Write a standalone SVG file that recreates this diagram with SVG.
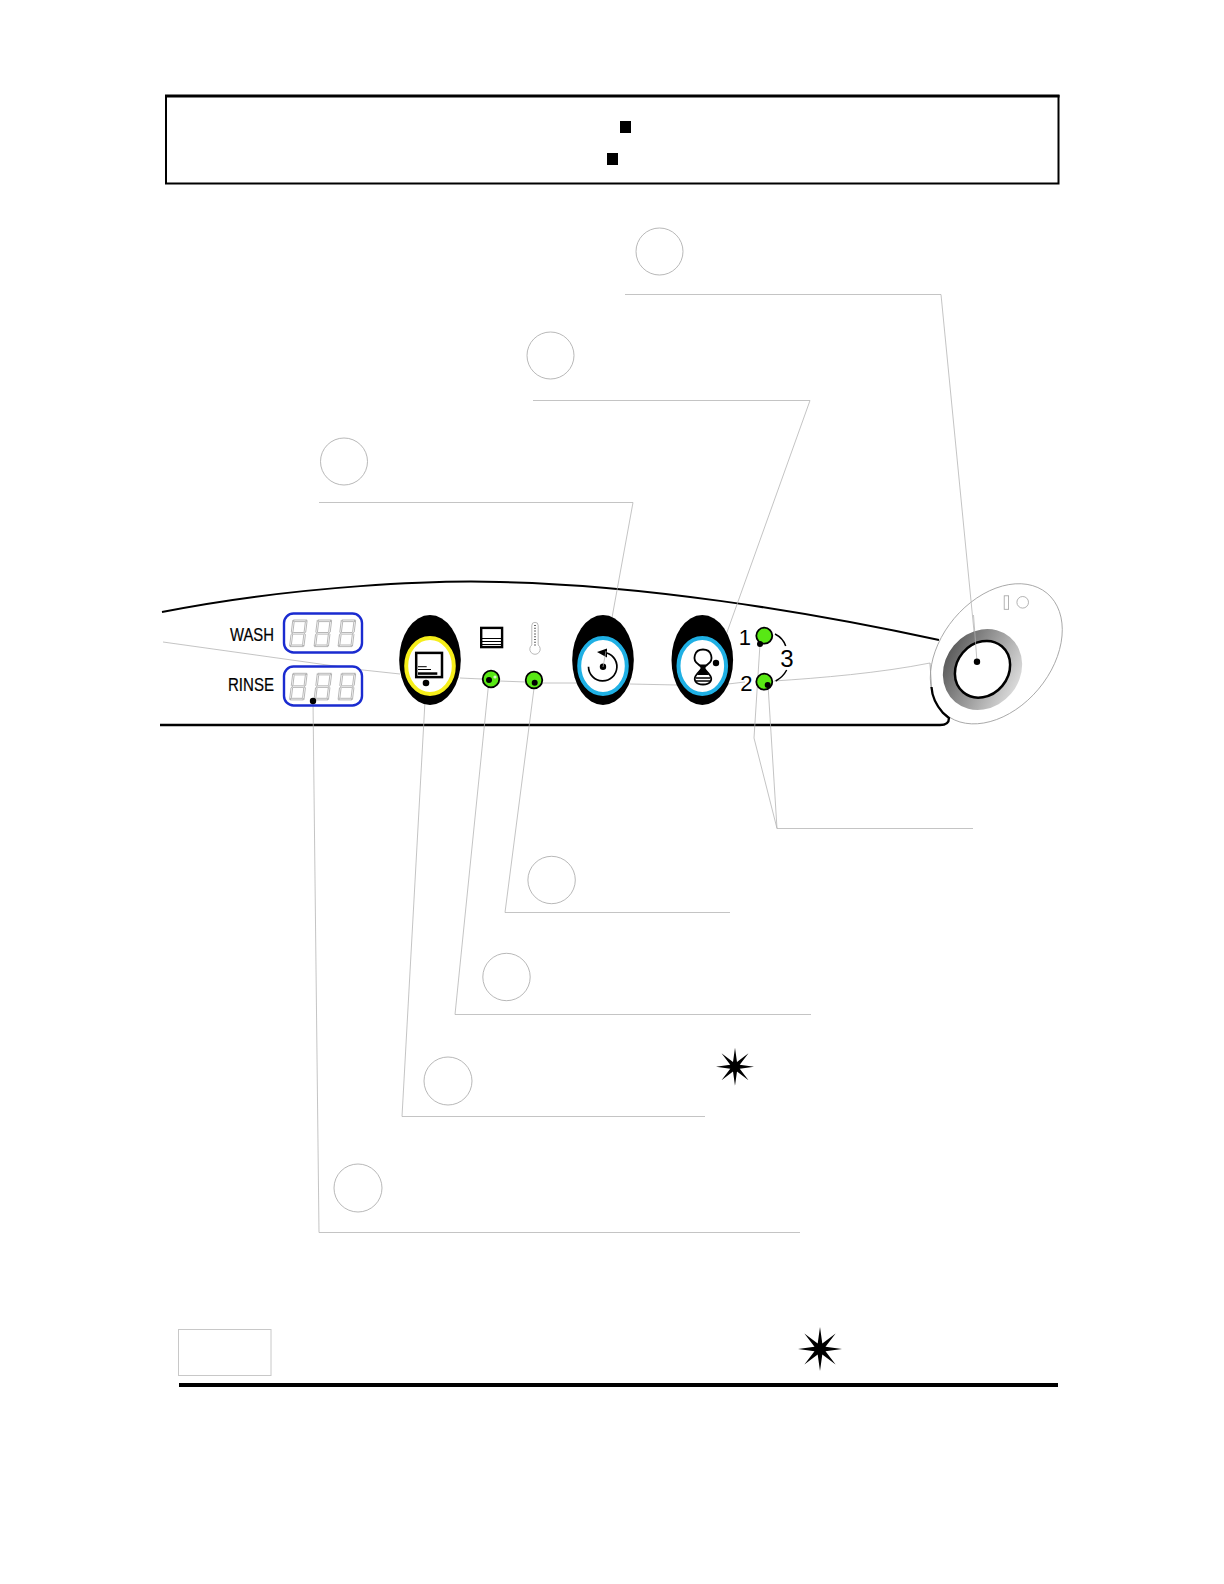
<svg xmlns="http://www.w3.org/2000/svg" width="1224" height="1584" viewBox="0 0 1224 1584">
<style>
.lead{fill:none;stroke:#b0b0b0;stroke-width:.75}
.callout{fill:none;stroke:#a0a0a0;stroke-width:.75}
.oval{fill:#000}
.dot{fill:#000}
.seg{fill:none;stroke:#9a9a9a;stroke-width:.7}
.disp{fill:#fff;stroke:#1a2bd0;stroke-width:2.4}
.led{fill:#58e814;stroke:#000;stroke-width:1.8}
.lbl{font-family:"Liberation Sans",Arial,sans-serif;fill:#000}
</style>
<defs>
<linearGradient id="ring" x1=".35" y1="0" x2=".65" y2="1"><stop offset="0" stop-color="#5a5a5a"/><stop offset=".5" stop-color="#9c9c9c"/><stop offset="1" stop-color="#dcdcdc"/></linearGradient>
<polygon id="star" points="0,-100 10.500,-25 71,-71 25,-10.500 100,0 25,10.500 71,71 10.500,25 0,100 -10.500,25 -71,71 -25,10.500 -100,0 -25,-10.500 -71,-71 -10.500,-25"/>
<g id="digit" class="seg" transform="skewX(-7)">
<path d="M.8 0H14.200L12.700 1.600H2.300Z"/>
<path d="M1.400 13.300L2.300 12.500H12.700L13.600 13.300L12.700 14.100H2.300Z"/>
<path d="M.8 26.600H14.200L12.700 25H2.300Z"/>
<path d="M.3 .5L1.900 2.100V11.900L1 12.800L.3 12.100Z"/>
<path d="M14.700 .5L13.100 2.100V11.900L14 12.800L14.700 12.100Z"/>
<path d="M.3 26.100L1.900 24.500V14.700L1 13.800L.3 14.500Z"/>
<path d="M14.700 26.100L13.100 24.500V14.700L14 13.800L14.700 14.500Z"/>
</g>
</defs>
<rect width="1224" height="1584" fill="#fff"/>

<g id="header-box">
<rect x="166" y="96" width="892.500" height="87.500" fill="#fff" stroke="#000" stroke-width="2"/>
<path d="M165 96H1059.500" stroke="#000" stroke-width="2.800" fill="none"/>
<rect x="620" y="121" width="11" height="12" fill="#000"/>
<rect x="607" y="153" width="11" height="12" fill="#000"/>
</g>

<g id="switch-plate">
<ellipse cx="996.300" cy="653.800" rx="79" ry="55" transform="rotate(-50 996.300 653.800)" fill="#fff" stroke="#9c9c9c" stroke-width=".8"/>
<rect x="1004.200" y="595.800" width="4.400" height="13.500" fill="none" stroke="#a0a0a0" stroke-width=".8"/>
<circle cx="1022.700" cy="602.300" r="5.800" fill="none" stroke="#a0a0a0" stroke-width=".8"/>
</g>

<g id="panel">
<path d="M162 612C300 585 440 580 500 582C640 585 800 610 939 640" fill="none" stroke="#000" stroke-width="2"/>
<path d="M160 725H940Q949 725 949 718L943 713C936 705 932 696 931.500 687" fill="none" stroke="#000" stroke-width="2.300"/>
<path d="M931.500 687L930 663" fill="none" stroke="#9c9c9c" stroke-width=".8"/>
<path d="M163 642L363 670L400 674M460 678L482 679M499 681L526 682M543 683L577 683M630 684L677 685M728 684L745 682M774 681C820 678 880 673 930 663" class="lead"/>
</g>

<g id="connectors">
<path class="lead" d="M625 294.500H941L977 662"/>
<path class="lead" d="M533 400.500H810L716 663"/>
<path class="lead" d="M319 502.500H633L603 667"/>
<path class="lead" d="M730 912.500H505L534.700 683"/>
<path class="lead" d="M811 1014.500H455L489 680"/>
<path class="lead" d="M705 1116.500H402L426 683"/>
<path class="lead" d="M800 1232.500H319L313 701"/>
<path class="lead" d="M973 828.500H777L754 738L760 644M777 828.500L768 685"/>
</g>

<g id="callout-1"><circle class="callout" cx="659.500" cy="251.500" r="23.500"/></g>
<g id="callout-2"><circle class="callout" cx="550.500" cy="355.500" r="23.500"/></g>
<g id="callout-3"><circle class="callout" cx="344" cy="461.500" r="23.500"/></g>
<g id="callout-4"><circle class="callout" cx="551.600" cy="880" r="23.700"/></g>
<g id="callout-5"><circle class="callout" cx="506.500" cy="977" r="23.700"/></g>
<g id="callout-6"><circle class="callout" cx="448" cy="1081" r="24"/></g>
<g id="callout-7"><circle class="callout" cx="358" cy="1188" r="24"/></g>

<g id="wash-display">
<text class="lbl" x="230" y="640.500" font-size="18" stroke="#000" stroke-width=".2" textLength="44" lengthAdjust="spacingAndGlyphs">WASH</text>
<rect class="disp" x="284" y="613.500" width="78" height="39" rx="9.500"/>
<use href="#digit" transform="translate(292.500 620)"/>
<use href="#digit" transform="translate(317 620)"/>
<use href="#digit" transform="translate(341 620)"/>
</g>
<g id="rinse-display">
<text class="lbl" x="228" y="691" font-size="18" stroke="#000" stroke-width=".2" textLength="46" lengthAdjust="spacingAndGlyphs">RINSE</text>
<rect class="disp" x="284" y="666.500" width="78" height="39" rx="9.500"/>
<use href="#digit" transform="translate(292.500 673.300)"/>
<use href="#digit" transform="translate(317 673.300)"/>
<use href="#digit" transform="translate(341 673.300)"/>
<circle class="dot" cx="313" cy="701" r="3.200"/>
</g>

<g id="button-prewash">
<ellipse class="oval" cx="430" cy="660" rx="30.800" ry="45"/>
<ellipse cx="430" cy="666" rx="23.800" ry="28" fill="#fff" stroke="#f6ee1a" stroke-width="4"/>
<rect x="416.200" y="652.900" width="25.800" height="24.200" fill="#fff" stroke="#000" stroke-width="2.500"/>
<path d="M418 666.700H426.700M418 669.500H431" stroke="#000" stroke-width="1" fill="none"/>
<rect x="418" y="672.300" width="19.300" height="2.500" fill="#000"/>
<circle class="dot" cx="426" cy="683" r="3.300"/>
</g>

<g id="indicator-a">
<rect x="481.200" y="627.900" width="20.900" height="19.200" fill="#fff" stroke="#000" stroke-width="2.400"/>
<path d="M481 638.500H503M481 641.500H503M481 644.500H503" stroke="#000" stroke-width="1.200" fill="none"/>
<circle class="led" cx="491" cy="679" r="8.300"/>
<circle cx="495" cy="677" r="1.600" fill="#d8f8c8"/>
<circle class="dot" cx="489" cy="680" r="3"/>
</g>

<g id="indicator-b">
<path d="M531.800 645V625.500A3.200 3.200 0 0 1 538.200 625.500V645A5.200 5.200 0 1 1 531.800 645Z" fill="#fff" stroke="#a8a8a8" stroke-width=".8"/>
<path d="M535 625V646" stroke="#444" stroke-width="1.600" stroke-dasharray="1 1.800" fill="none"/>
<circle class="led" cx="534" cy="680" r="8.300"/>
<circle class="dot" cx="534.700" cy="682.700" r="3"/>
</g>

<g id="button-spin">
<ellipse class="oval" cx="603" cy="660" rx="30.800" ry="45"/>
<ellipse cx="603" cy="666" rx="23.800" ry="28" fill="#fff" stroke="#1fb0e4" stroke-width="4"/>
<path d="M588.500 666.700A14.200 14.200 0 1 0 604 652.500" fill="none" stroke="#000" stroke-width="1.700"/>
<polygon points="597,652 607,648.500 607,657.500" fill="#000"/>
<circle class="dot" cx="603" cy="666.700" r="3.200"/>
<path d="M606 651L603 667" class="lead"/>
</g>

<g id="button-delay">
<ellipse class="oval" cx="702.300" cy="660" rx="30.800" ry="45"/>
<ellipse cx="702.300" cy="666" rx="23.800" ry="28" fill="#fff" stroke="#1fb0e4" stroke-width="4"/>
<path d="M698 664C692 660 694 649.500 703 649.500C712 649.500 714 660 708 664C705.500 666 704.500 667 704.500 668C704.500 670 707 671 709 674C714 680 710 684.500 703 684.500C696 684.500 692 680 697 674C699 671 701.500 670 701.500 668C701.500 667 700.500 666 698 664Z" fill="#fff" stroke="#000" stroke-width="1.800"/>
<path d="M699 664.500H707L703.800 668L709 675H697L702.200 668Z" fill="#000"/>
<path d="M696 678H710M696 681H710" stroke="#000" stroke-width="1.300" fill="none"/>
<circle class="dot" cx="716" cy="663" r="3.200"/>
</g>

<g id="speed-selector">
<circle class="led" cx="764.300" cy="635.700" r="8"/>
<circle class="dot" cx="760" cy="644" r="3"/>
<circle class="led" cx="764.300" cy="681.700" r="8"/>
<circle class="dot" cx="767.700" cy="685" r="3"/>
<text class="lbl" x="751" y="645" font-size="22" text-anchor="end">1</text>
<text class="lbl" x="752.500" y="690.500" font-size="22" text-anchor="end">2</text>
<text class="lbl" x="787" y="666.500" font-size="24" text-anchor="middle">3</text>
<path d="M775 634Q783 638 785.700 646M786.700 670Q783 677 775.700 681" fill="none" stroke="#000" stroke-width="1.500"/>
</g>

<g id="main-switch">
<ellipse cx="982.500" cy="669.500" rx="42.500" ry="37.500" transform="rotate(-50 982.500 669.500)" fill="url(#ring)"/>
<ellipse cx="982.500" cy="669.300" rx="30" ry="25.800" transform="rotate(-50 982.500 669.300)" fill="#fff" stroke="#000" stroke-width="2.500"/>
<path d="M973.500 615L977 662" class="lead"/>
<circle class="dot" cx="977" cy="661.700" r="3.200"/>
</g>

<g id="star-small"><use href="#star" transform="translate(735 1066.700) scale(.19)"/></g>
<g id="star-large"><use href="#star" transform="translate(820 1349) scale(.22)"/></g>

<g id="footer">
<rect x="178.500" y="1329.500" width="92.500" height="46" fill="#fff" stroke="#c8c8c8" stroke-width="1"/>
<rect x="179" y="1383" width="879" height="4" fill="#000"/>
</g>
</svg>
